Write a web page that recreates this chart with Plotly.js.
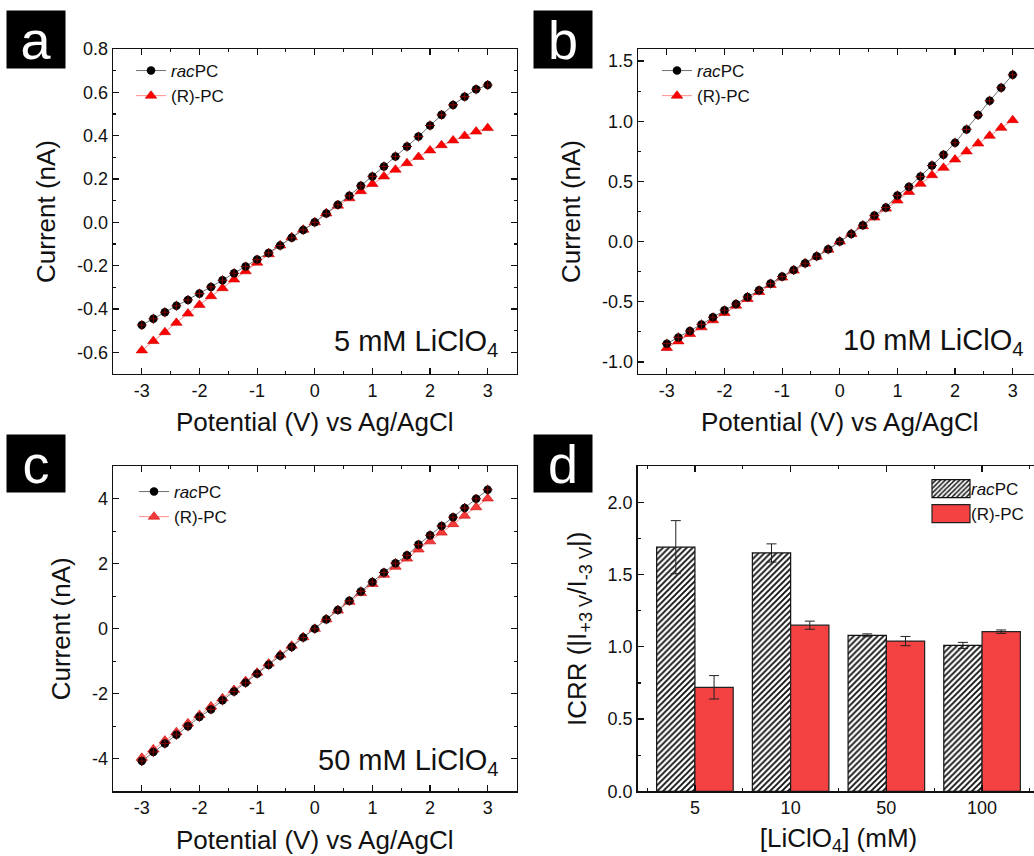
<!DOCTYPE html>
<html>
<head>
<meta charset="utf-8">
<script src="https://cdn.plot.ly/plotly-3.0.1.min.js"></script>
<style>
  html, body { margin: 0; padding: 0; overflow: hidden; background: #fff; }
  #chart { width: 1050px; height: 856px; }
</style>
</head>
<body>
<div id="chart"></div>
<script>
// Applied potential (V vs Ag/AgCl)
const potential = [-3.0, -2.8, -2.6, -2.4, -2.2, -2.0, -1.8, -1.6, -1.4, -1.2, -1.0,
  -0.8, -0.6, -0.4, -0.2, 0.0, 0.2, 0.4, 0.6, 0.8, 1.0, 1.2, 1.4, 1.6, 1.8, 2.0,
  2.2, 2.4, 2.6, 2.8, 3.0];

// I-V curves, current in nA
const rac5 = [-0.474, -0.445, -0.415, -0.385, -0.358, -0.329, -0.298, -0.267, -0.235, -0.204,
  -0.172, -0.141, -0.107, -0.071, -0.035, 0.000, 0.041, 0.081, 0.123, 0.169, 0.212, 0.258,
  0.304, 0.350, 0.396, 0.447, 0.496, 0.542, 0.580, 0.614, 0.634];
const r5 = [-0.591, -0.548, -0.507, -0.464, -0.421, -0.381, -0.341, -0.304, -0.264, -0.226,
  -0.186, -0.147, -0.107, -0.069, -0.034, 0.000, 0.041, 0.077, 0.111, 0.144, 0.177, 0.212,
  0.243, 0.273, 0.302, 0.332, 0.356, 0.378, 0.399, 0.419, 0.435];

const rac10 = [-0.848, -0.796, -0.743, -0.688, -0.629, -0.571, -0.518, -0.460, -0.405, -0.349,
  -0.291, -0.236, -0.180, -0.122, -0.064, 0.000, 0.064, 0.136, 0.216, 0.283, 0.383, 0.455,
  0.541, 0.632, 0.721, 0.821, 0.932, 1.051, 1.170, 1.278, 1.386];
const r10 = [-0.884, -0.829, -0.768, -0.712, -0.654, -0.593, -0.532, -0.477, -0.419, -0.360,
  -0.299, -0.241, -0.183, -0.125, -0.067, 0.000, 0.064, 0.128, 0.200, 0.274, 0.341, 0.413,
  0.480, 0.552, 0.613, 0.682, 0.749, 0.815, 0.879, 0.945, 1.009];

const rac50 = [-4.07, -3.79, -3.53, -3.26, -3.00, -2.71, -2.48, -2.20, -1.93, -1.66,
  -1.38, -1.11, -0.83, -0.56, -0.27, 0.00, 0.29, 0.58, 0.86, 1.15, 1.44, 1.73,
  2.02, 2.26, 2.59, 2.88, 3.16, 3.43, 3.72, 4.00, 4.28];
const r50 = [-3.97, -3.71, -3.44, -3.18, -2.91, -2.65, -2.39, -2.14, -1.88, -1.61,
  -1.35, -1.07, -0.80, -0.52, -0.26, 0.00, 0.29, 0.56, 0.83, 1.10, 1.38, 1.66,
  1.91, 2.16, 2.44, 2.69, 2.96, 3.22, 3.48, 3.74, 4.01];

// Ion current rectification ratio vs electrolyte concentration
const concentrations = ['5', '10', '50', '100'];
const icrrRac = [1.69, 1.65, 1.08, 1.01];
const icrrRacErr = [0.184, 0.063, 0.010, 0.021];
const icrrR = [0.72, 1.15, 1.04, 1.105];
const icrrRErr = [0.081, 0.028, 0.032, 0.012];

// Tick values
const potentialTicks = [-3, -2, -1, 0, 1, 2, 3];
const ticksA = [-0.6, -0.4, -0.2, 0.0, 0.2, 0.4, 0.6, 0.8];
const ticksB = [-1.0, -0.5, 0.0, 0.5, 1.0, 1.5];
const ticksC = [-4, -2, 0, 2, 4];
const ticksD = [0.0, 0.5, 1.0, 1.5, 2.0];

// ---- page geometry (pixels -> paper fractions) ----
const W = 1050, H = 856;
const fx = p => p / W;
const fy = p => 1 - p / H;
const dom = (a, b) => [fx(a), fx(b)];
const domY = (top, bottom) => [fy(bottom), fy(top)];

const INK = '#111';
const FONT = 'Arial, "Liberation Sans", sans-serif';
const TICK_SIZE = 18;
const TITLE_SIZE = 26;

function axis(extra) {
  return Object.assign({
    showline: true, linecolor: INK, linewidth: 1.3, mirror: 'allticks',
    ticks: 'inside', ticklen: 6, tickwidth: 1.2, tickcolor: INK,
    showgrid: false, zeroline: false,
    tickfont: { size: TICK_SIZE, color: INK, family: FONT },
    fixedrange: true
  }, extra);
}
function minor(dtick) {
  return { dtick: dtick, tick0: 0, ticks: 'inside', ticklen: 3, tickwidth: 1.1, tickcolor: INK, showgrid: false };
}
function labels(vals, digits) { return vals.map(v => v.toFixed(digits)); }
function titleOf(text, standoff) {
  return { text: text, font: { size: TITLE_SIZE, color: INK, family: FONT }, standoff: standoff };
}

function potentialAxis(domain, anchor) {
  return axis({
    domain: domain, anchor: anchor, range: [-3.5, 3.5],
    tickmode: 'array', tickvals: potentialTicks, ticktext: labels(potentialTicks, 0),
    minor: minor(0.5),
    title: titleOf('Potential (V) vs Ag/AgCl', 13)
  });
}
function currentAxis(domain, anchor, range, ticks, digits, dminor) {
  return axis({
    domain: domain, anchor: anchor, range: range,
    tickmode: 'array', tickvals: ticks, ticktext: labels(ticks, digits),
    minor: minor(dminor),
    title: titleOf('Current (nA)', 14)
  });
}

// one pair of I-V traces per panel
function ivTraces(y1, y2, xa, ya, legendId, redColor) {
  return [
    {
      x: potential, y: y2, xaxis: xa, yaxis: ya, legend: legendId,
      name: '(R)-PC', mode: 'lines+markers', type: 'scatter',
      line: { color: '#ff8c8c', width: 1 },
      marker: { symbol: 'triangle-up', size: 10, color: redColor, line: { color: '#c80000', width: 0.6 } }
    },
    {
      x: potential, y: y1, xaxis: xa, yaxis: ya, legend: legendId,
      name: '<i>rac</i>PC', mode: 'lines+markers', type: 'scatter',
      line: { color: '#707070', width: 1 },
      marker: { symbol: 'circle', size: 8.5, color: '#000' }
    },
    {
      x: potential, y: y1, xaxis: xa, yaxis: ya, showlegend: false,
      mode: 'markers', type: 'scatter', hoverinfo: 'skip',
      marker: { symbol: 'cross-thin', size: 7, line: { color: '#7a0000', width: 1.1 } }
    }
  ];
}

const xIdx = concentrations.map((c, i) => i);

const traces = [].concat(
  ivTraces(rac5, r5, 'x', 'y', 'legend', '#ff0000'),
  ivTraces(rac10, r10, 'x2', 'y2', 'legend2', '#ff0000'),
  ivTraces(rac50, r50, 'x3', 'y3', 'legend3', '#f43c3c'),
  [
    {
      type: 'bar', x: xIdx, y: icrrRac, xaxis: 'x4', yaxis: 'y4', legend: 'legend4',
      name: '<i>rac</i>PC',
      marker: {
        color: '#ffffff',
        line: { color: '#111', width: 1.2 },
        pattern: { shape: '/', fgcolor: '#111', bgcolor: '#ffffff', size: 4.2, solidity: 0.45 }
      },
      error_y: { type: 'data', array: icrrRacErr, color: '#222', thickness: 1, width: 5 }
    },
    {
      type: 'bar', x: xIdx, y: icrrR, xaxis: 'x4', yaxis: 'y4', legend: 'legend4',
      name: '(R)-PC',
      marker: { color: '#f44242', line: { color: '#222', width: 1.2 } },
      error_y: { type: 'data', array: icrrRErr, color: '#222', thickness: 1, width: 5 }
    }
  ]
);

const legendBase = {
  xanchor: 'left', yanchor: 'top', bgcolor: 'rgba(0,0,0,0)', borderwidth: 0,
  font: { size: 17, color: INK, family: FONT }, itemwidth: 30, tracegroupgap: 0,
  itemclick: false, itemdoubleclick: false
};

function concLabel(text, xRight, yMid) {
  return {
    text: text, xref: 'paper', yref: 'paper', x: fx(xRight), y: fy(yMid),
    xanchor: 'right', yanchor: 'middle', showarrow: false,
    font: { size: 29, color: INK, family: FONT }
  };
}
function panelTag(letter, left, top) {
  return {
    text: letter, xref: 'paper', yref: 'paper', x: fx(left + 29), y: fy(top + 28.5),
    xanchor: 'center', yanchor: 'middle', showarrow: false,
    width: 58, height: 57, bgcolor: '#000', borderpad: 0,
    font: { size: 54, color: '#fff', family: FONT }
  };
}

const layout = {
  width: W, height: H,
  margin: { l: 0, r: 0, t: 0, b: 0 },
  paper_bgcolor: '#fff', plot_bgcolor: '#fff',
  font: { family: FONT, color: INK },
  showlegend: true,
  barmode: 'group', bargap: 0.2, bargroupgap: 0,

  xaxis: potentialAxis(dom(113, 516.5), 'y'),
  yaxis: currentAxis(domY(49, 374), 'x', [-0.7, 0.8], ticksA, 1, 0.1),

  xaxis2: potentialAxis(dom(638, 1041.5), 'y2'),
  yaxis2: currentAxis(domY(49, 374), 'x2', [-1.1, 1.6], ticksB, 1, 0.25),

  xaxis3: potentialAxis(dom(113, 516.5), 'y3'),
  yaxis3: currentAxis(domY(466.3, 791.3), 'x3', [-5, 5], ticksC, 0, 1),

  xaxis4: axis({
    domain: dom(637.5, 1039.5), anchor: 'y4', range: [-0.6, 3.6],
    tickmode: 'array', tickvals: xIdx, ticktext: concentrations,
    minor: minor(0.5),
    title: titleOf('[LiClO<sub>4</sub>] (mM)', 11)
  }),
  yaxis4: axis({
    domain: domY(466.3, 791.3), anchor: 'x4', range: [0, 2.25],
    tickmode: 'array', tickvals: ticksD, ticktext: labels(ticksD, 1),
    minor: minor(0.25),
    title: titleOf('ICRR (|I<sub>+3 V</sub>/I<sub>-3 V</sub>|)', 13)
  }),

  legend: Object.assign({}, legendBase, { x: fx(131), y: fy(53), traceorder: 'reversed' }),
  legend2: Object.assign({}, legendBase, { x: fx(657), y: fy(53), traceorder: 'reversed' }),
  legend3: Object.assign({}, legendBase, { x: fx(134), y: fy(474), traceorder: 'reversed' }),
  legend4: Object.assign({}, legendBase, { x: fx(931), y: fy(471), traceorder: 'normal' }),

  annotations: [
    concLabel('5 mM LiClO<sub>4</sub>', 500, 343),
    concLabel('10 mM LiClO<sub>4</sub>', 1025, 342),
    concLabel('50 mM LiClO<sub>4</sub>', 500, 762),
    panelTag('a', 7, 11),
    panelTag('b', 534, 11),
    panelTag('c', 7, 435),
    panelTag('d', 534, 435)
  ]
};

Plotly.newPlot('chart', traces, layout, { staticPlot: true, displayModeBar: false }).then(function (gd) {
  // wider swatches for the bar legend
  gd.querySelectorAll('g.legend4 g.legendpoints path').forEach(function (p) {
    p.setAttribute('d', 'M19,9H-19V-9H19Z');
  });
});
</script>
</body>
</html>
